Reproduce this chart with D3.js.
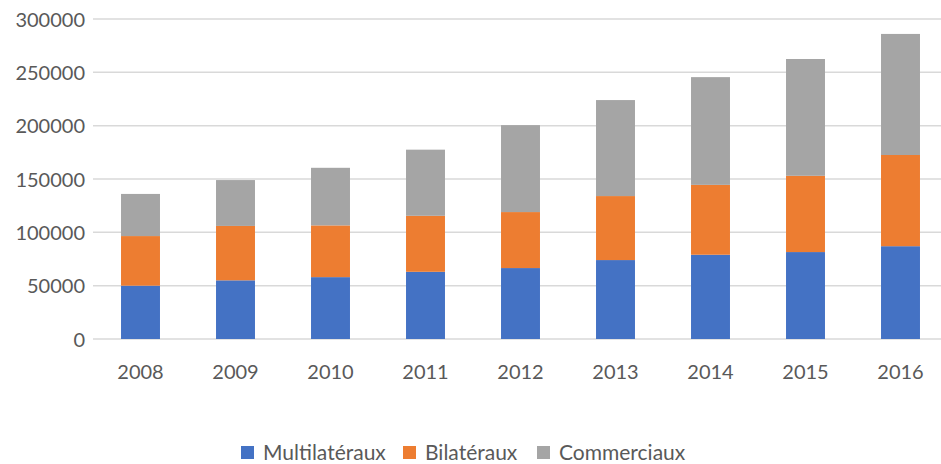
<!DOCTYPE html>
<html>
<head>
<meta charset="utf-8">
<script src="https://d3js.org/d3.v7.min.js"></script>
<style>
  body { margin: 0; background: #fff; }
  text { font-family: Lato, "Open Sans", sans-serif; fill: #595959; }
</style>
</head>
<body>
<div class="chart"></div>
<script>
var years = ["2008", "2009", "2010", "2011", "2012", "2013", "2014", "2015", "2016"];
var multilateraux = [50000, 55000, 58000, 63000, 66500, 74000, 79000, 81500, 87000];
var bilateraux = [46500, 51000, 48500, 52500, 52500, 60000, 65500, 71500, 85500];
var commerciaux = [39500, 43000, 54000, 62000, 81500, 90000, 101000, 109500, 113500];
var seriesNames = ["Multilatéraux", "Bilatéraux", "Commerciaux"];
var yTicks = [0, 50000, 100000, 150000, 200000, 250000, 300000];

var width = 941, height = 464;
var margin = { top: 19, left: 93, bottom: 125 };
var plotW = 855;
var plotH = height - margin.top - margin.bottom;

var color = d3.scaleOrdinal(seriesNames, ["#4472C4", "#ED7D31", "#A5A5A5"]);

var rows = years.map(function(y, i) {
    return { year: y, "Multilatéraux": multilateraux[i], "Bilatéraux": bilateraux[i], "Commerciaux": commerciaux[i] };
});
var stacked = d3.stack().keys(seriesNames)(rows);

var x = d3.scaleBand().domain(years).range([0, plotW]).paddingInner(0.59).paddingOuter(0.295);
var y = d3.scaleLinear().domain([0, 300000]).range([plotH, 0]);

var svg = d3.select(".chart").append("svg")
    .attr("width", width)
    .attr("height", height)
  .append("g")
    .attr("transform", "translate(" + margin.left + "," + margin.top + ")");

// gridlines
svg.append("g")
    .selectAll("line")
    .data(yTicks)
    .enter().append("line")
    .attr("x1", 0)
    .attr("x2", plotW)
    .attr("y1", function(d) { return y(d); })
    .attr("y2", function(d) { return y(d); })
    .attr("stroke", "#d9d9d9")
    .attr("stroke-width", 1.5);

svg.selectAll(".serie")
    .data(stacked)
    .enter().append("g")
    .attr("class", "serie")
    .attr("fill", function(d) { return color(d.key); })
  .selectAll("rect")
    .data(function(d) { return d; })
    .enter().append("rect")
    .attr("x", function(d) { return x(d.data.year); })
    .attr("width", x.bandwidth())
    .attr("y", function(d) { return y(d[1]); })
    .attr("height", function(d) { return y(d[0]) - y(d[1]); });

var yAxis = svg.append("g")
    .call(d3.axisLeft(y).tickValues(yTicks).tickSize(0).tickPadding(8).tickFormat(d3.format("d")));
yAxis.select(".domain").remove();
yAxis.selectAll("text").style("font-size", "20px").attr("dy", "0.35em");

var xAxis = svg.append("g")
    .attr("transform", "translate(0," + plotH + ")")
    .call(d3.axisBottom(x).tickSize(0).tickPadding(26));
xAxis.select(".domain").remove();
xAxis.selectAll("text").style("font-size", "20px");

// legend
var legendX = [241, 403, 537];
var legend = d3.select("svg").append("g");
var items = legend.selectAll("g")
    .data(seriesNames)
    .enter().append("g")
    .attr("transform", function(d, i) { return "translate(" + legendX[i] + ",446)"; });
items.append("rect")
    .attr("width", 13)
    .attr("height", 13)
    .attr("fill", function(d) { return color(d); });
items.append("text")
    .attr("x", 22)
    .attr("y", 6.5)
    .attr("dy", "0.35em")
    .style("font-size", "21px")
    .text(function(d) { return d; });
</script>
</body>
</html>
